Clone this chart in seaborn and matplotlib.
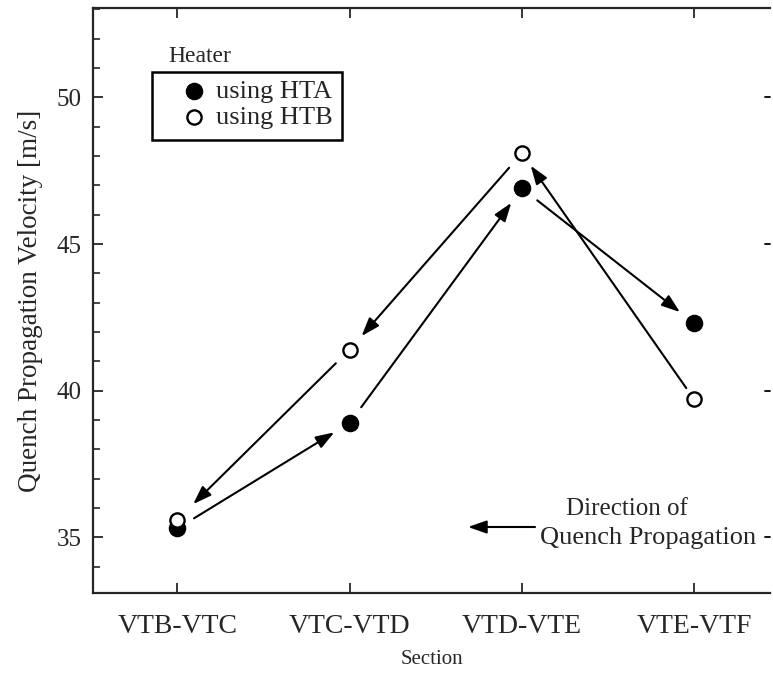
import numpy as np
import matplotlib
matplotlib.use("Agg")
import matplotlib.pyplot as plt
from matplotlib.patches import Rectangle
import seaborn as sns

# Measured quench propagation velocities per section
sections = ["VTB-VTC", "VTC-VTD", "VTD-VTE", "VTE-VTF"]
velocity_hta = [35.3, 38.9, 46.9, 42.3]
velocity_htb = [35.6, 41.4, 48.1, 39.7]
y_major = [35, 40, 45, 50]
y_minor = list(range(34, 54))
label_hta = "using HTA"
label_htb = "using HTB"

sns.set_theme(style="ticks")
plt.rcParams["font.family"] = ["Liberation Serif", "DejaVu Serif"]
plt.rcParams["axes.linewidth"] = 1.6

W, H = 773, 676
fig = plt.figure(figsize=(W / 100, H / 100), dpi=100)
ax = fig.add_axes([93 / W, 1 - 593 / H, (770 - 93) / W, (593 - 8) / H])


def ax_x(px):
    return (px - 93) / (770 - 93)


def ax_y(py):
    return 1 - (py - 8) / (593 - 8)


pos = np.arange(len(sections))

sns.scatterplot(x=pos, y=velocity_hta, ax=ax, marker="o", s=135,
                color="black", edgecolor="black", linewidth=1.0, zorder=4,
                label=label_hta)
sns.scatterplot(x=pos, y=velocity_htb, ax=ax, marker="o", s=105,
                facecolor="white", edgecolor="black", linewidth=1.7, zorder=4,
                label=label_htb)


def connect(values, i, j, shrink_a=14, shrink_b=13):
    ax.annotate("", xy=(pos[j], values[j]), xytext=(pos[i], values[i]),
                arrowprops=dict(arrowstyle="-|>,head_length=0.8,head_width=0.28",
                                mutation_scale=14, color="black", lw=1.5,
                                shrinkA=shrink_a, shrinkB=shrink_b),
                zorder=3)


# HTA heater: propagation from VTB towards VTF
for i in range(len(sections) - 1):
    connect(velocity_hta, i, i + 1)
# HTB heater: propagation from VTF back towards VTB
connect(velocity_htb, 3, 2, shrink_a=10, shrink_b=11)
connect(velocity_htb, 2, 1)
connect(velocity_htb, 1, 0, shrink_b=16)

ax.set_xlim(-0.49, 3.44)
ax.set_ylim(33.1, 53.05)
ax.set_xticks(pos)
ax.set_xticklabels(sections)
ax.set_yticks(y_major)
ax.set_yticks(y_minor, minor=True)

ax.spines["right"].set_visible(False)
ax.tick_params(axis="x", which="major", direction="in", top=True, bottom=True,
               length=7, width=1.3, labelsize=20, pad=15)
ax.tick_params(axis="y", which="major", direction="in", left=True, right=False,
               length=7, width=1.3, labelsize=18, pad=8)
ax.tick_params(axis="y", which="minor", direction="in", left=True, right=False,
               length=5, width=1.2)

# short marks on the open right side at the major values
for v in y_major:
    ax.plot([0.993, 1.0], [v, v], color="black", lw=1.3,
            transform=ax.get_yaxis_transform(), clip_on=False)

ax.set_xlabel("Section", fontsize=15, labelpad=8)
ax.set_ylabel("Quench Propagation Velocity [m/s]", fontsize=19.5, labelpad=10)

# legend box with the heater title above it
ax.add_patch(Rectangle((ax_x(152), ax_y(140)), ax_x(342) - ax_x(152),
                       ax_y(72) - ax_y(140), transform=ax.transAxes,
                       fill=True, facecolor="white", edgecolor="black",
                       lw=1.8, zorder=5))
leg = ax.legend(loc="upper left", bbox_to_anchor=(ax_x(176), ax_y(74)),
                borderaxespad=0, fontsize=19, frameon=False,
                handlelength=1.0, handletextpad=0.3, borderpad=0.2,
                labelspacing=0.12)
leg.set_zorder(6)
ax.text(ax_x(168), ax_y(57), "Heater", transform=ax.transAxes, fontsize=17,
        ha="left", va="center")

ax.text(ax_x(566), ax_y(509), "Direction of", transform=ax.transAxes,
        fontsize=18, ha="left", va="center")
ax.text(ax_x(540), ax_y(538), "Quench Propagation", transform=ax.transAxes,
        fontsize=19, ha="left", va="center")
ax.annotate("", xy=(ax_x(468), ax_y(527)), xytext=(ax_x(535), ax_y(527)),
            xycoords="axes fraction", textcoords="axes fraction",
            arrowprops=dict(arrowstyle="-|>,head_length=0.8,head_width=0.28",
                            mutation_scale=14, color="black", lw=1.5,
                            shrinkA=0, shrinkB=0))

fig.savefig("out.png", dpi=100)
